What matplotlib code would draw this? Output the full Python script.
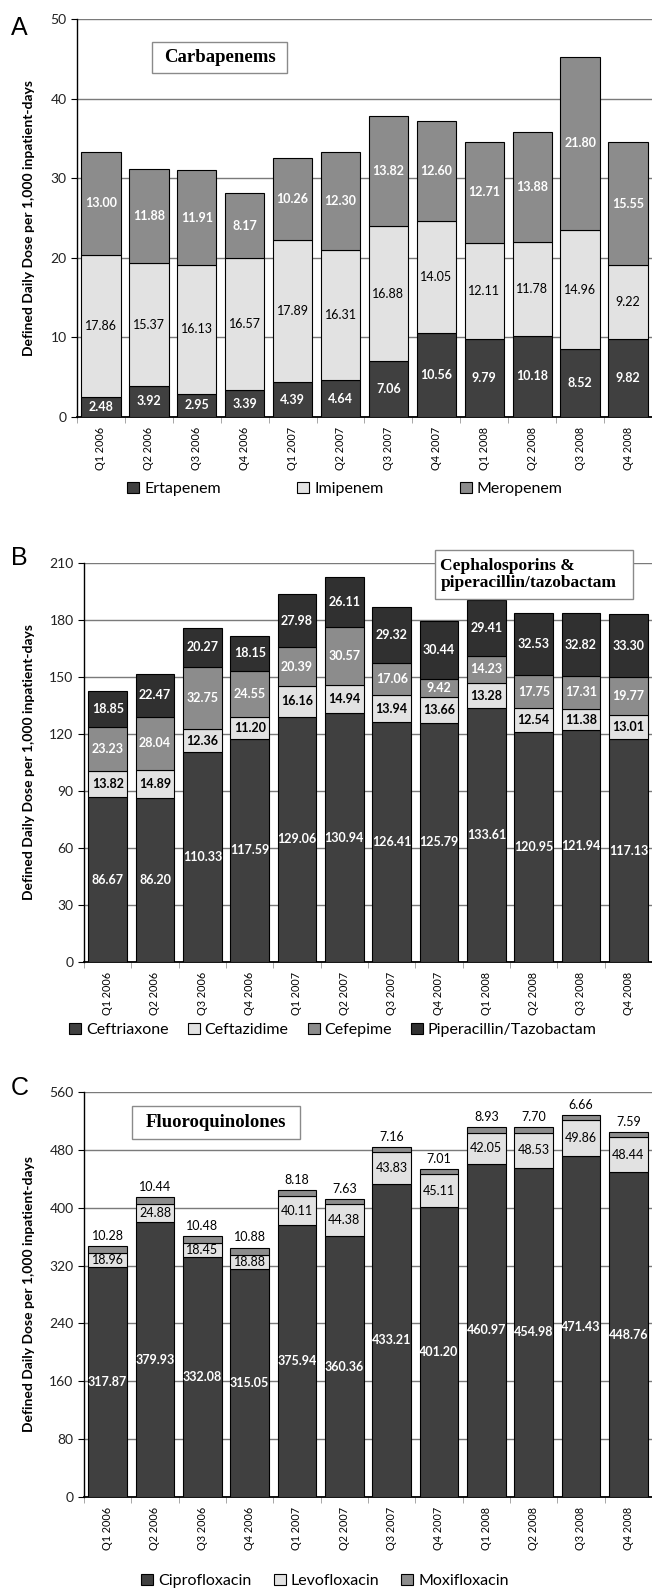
import matplotlib
matplotlib.use('Agg')
import matplotlib.pyplot as plt
from matplotlib.patches import Rectangle, Patch
import numpy as np

quarters = ['Q1 2006', 'Q2 2006', 'Q3 2006', 'Q4 2006', 'Q1 2007', 'Q2 2007',
            'Q3 2007', 'Q4 2007', 'Q1 2008', 'Q2 2008', 'Q3 2008', 'Q4 2008']

# Panel A - Carbapenems
ertapenem = [2.48, 3.92, 2.95, 3.39, 4.39, 4.64, 7.06, 10.56, 9.79, 10.18, 8.52, 9.82]
imipenem = [17.86, 15.37, 16.13, 16.57, 17.89, 16.31, 16.88, 14.05, 12.11, 11.78, 14.96, 9.22]
meropenem = [13.00, 11.88, 11.91, 8.17, 10.26, 12.30, 13.82, 12.60, 12.71, 13.88, 21.80, 15.55]

# Panel B - Cephalosporins & piperacillin/tazobactam
ceftriaxone = [86.67, 86.20, 110.33, 117.59, 129.06, 130.94, 126.41, 125.79, 133.61, 120.95, 121.94, 117.13]
ceftazidime = [13.82, 14.89, 12.36, 11.20, 16.16, 14.94, 13.94, 13.66, 13.28, 12.54, 11.38, 13.01]
cefepime = [23.23, 28.04, 32.75, 24.55, 20.39, 30.57, 17.06, 9.42, 14.23, 17.75, 17.31, 19.77]
piptazo = [18.85, 22.47, 20.27, 18.15, 27.98, 26.11, 29.32, 30.44, 29.41, 32.53, 32.82, 33.30]

# Panel C - Fluoroquinolones
ciprofloxacin = [317.87, 379.93, 332.08, 315.05, 375.94, 360.36, 433.21, 401.20, 460.97, 454.98, 471.43, 448.76]
levofloxacin = [18.96, 24.88, 18.45, 18.88, 40.11, 44.38, 43.83, 45.11, 42.05, 48.53, 49.86, 48.44]
moxifloxacin = [10.28, 10.44, 10.48, 10.88, 8.18, 7.63, 7.16, 7.01, 8.93, 7.70, 6.66, 7.59]

W, H = 652, 1593
fig = plt.figure(figsize=(W / 100, H / 100), dpi=100)
SANS = ['Lato', 'DejaVu Sans']
SERIF = ['Liberation Serif', 'DejaVu Serif']

DARK = '#404040'
DARKER = '#303030'
LIGHT = '#e2e2e2'
MID = '#8c8c8c'


def add_ax(l, t, r, b):
    return fig.add_axes([l / W, 1 - b / H, (r - l) / W, (b - t) / H])


def panel(ax, series, colors, styles, ymax, ystep, top_pad):
    x = np.arange(len(quarters))
    bottom = np.zeros(len(quarters))
    for vals, col, st in zip(series, colors, styles):
        vals = np.array(vals)
        ax.bar(x, vals, 0.82, bottom=bottom, color=col, edgecolor='black',
               linewidth=0.8, zorder=3)
        tc, fw, mode = st
        for xi, b, v in zip(x, bottom, vals):
            if mode == 'center':
                ax.text(xi, b + v / 2, f'{v:.2f}', ha='center', va='center',
                        color=tc, fontsize=9, fontweight=fw, family=SANS, zorder=4)
            else:
                ax.annotate(f'{v:.2f}', (xi, b + v), xytext=(0, top_pad),
                            textcoords='offset points', ha='center', va='bottom',
                            color=tc, fontsize=9, fontweight=fw, family=SANS, zorder=4)
        bottom = bottom + vals
    ax.set_xlim(-0.5, len(quarters) - 0.5)
    ax.set_ylim(0, ymax)
    ax.set_yticks(np.arange(0, ymax + 0.1, ystep))
    ax.set_xticks(x)
    ax.set_xticklabels(quarters, rotation=90, fontsize=7.8, family=SANS)
    ax.set_xticks(np.arange(-0.5, len(quarters), 1), minor=True)
    ax.tick_params(axis='x', which='major', length=0, pad=7)
    ax.tick_params(axis='x', which='minor', length=4, color='#999999', direction='out')
    ax.tick_params(axis='y', length=4, direction='out', labelsize=10, color='black')
    for lab in ax.get_yticklabels():
        lab.set_family(SANS)
        lab.set_color('#222222')
    ax.yaxis.grid(True, color='#7a7a7a', linewidth=1.0)
    ax.set_axisbelow(True)
    for s in ['top', 'right']:
        ax.spines[s].set_visible(False)
    ax.spines['left'].set_linewidth(1.0)
    ax.spines['bottom'].set_linewidth(1.3)


def ylabel(t, b):
    fig.text(29 / W, 1 - (t + b) / 2 / H, 'Defined Daily Dose per 1,000 inpatient-days',
             rotation=90, ha='center', va='center', fontsize=10, fontweight='bold',
             family=SANS)


def letter(s, y):
    fig.text(11 / W, 1 - y / H, s, fontsize=18, family=['Liberation Sans', 'DejaVu Sans'],
             ha='left', va='top')


def legend(labels, colors, cx, cy, colsp):
    handles = [Patch(facecolor=c, edgecolor='black', linewidth=0.8) for c in colors]
    fig.legend(handles, labels, loc='center', bbox_to_anchor=(cx / W, 1 - cy / H),
               ncol=len(labels), frameon=False, handlelength=0.75, handleheight=0.75,
               handletextpad=0.3, columnspacing=colsp,
               prop={'family': SANS, 'size': 11.5})


def title_box(ax, x0, x1, y0, y1, lines, ha='center'):
    ax.add_patch(Rectangle((x0, y0), x1 - x0, y1 - y0, facecolor='white',
                           edgecolor='#8a8a8a', linewidth=1.0, clip_on=False, zorder=6))
    if ha == 'center':
        ax.text((x0 + x1) / 2, (y0 + y1) / 2, lines, ha='center', va='center',
                fontsize=13.5, fontweight='bold', family=SERIF, zorder=7)
    else:
        ax.text(x0 + 0.12, (y0 + y1) / 2, lines, ha='left', va='center',
                fontsize=12.5, fontweight='bold', family=SERIF, zorder=7,
                linespacing=1.05)


# ---- Panel A
A = (77, 19, 652, 417)
axA = add_ax(*A)
panel(axA, [ertapenem, imipenem, meropenem], [DARK, LIGHT, MID],
      [('white', 'bold', 'center'), ('black', 'normal', 'center'),
       ('white', 'bold', 'center')], 50, 10, 2)
title_box(axA, 1.07, 3.89, 43.2, 47.1, 'Carbapenems')
ylabel(A[1], A[3])
letter('A', 16)
legend(['Ertapenem', 'Imipenem', 'Meropenem'], [DARK, LIGHT, MID], 345, 489, 4.8)

# ---- Panel B
B = (84, 563, 652, 962)
axB = add_ax(*B)
panel(axB, [ceftriaxone, ceftazidime, cefepime, piptazo], [DARK, LIGHT, MID, DARKER],
      [('white', 'bold', 'center'), ('black', 'bold', 'center'),
       ('white', 'bold', 'center'), ('white', 'bold', 'center')], 210, 30, 2)
title_box(axB, 6.91, 11.1, 191, 217, 'Cephalosporins &\npiperacillin/tazobactam', ha='left')
ylabel(B[1], B[3])
letter('B', 546)
legend(['Ceftriaxone', 'Ceftazidime', 'Cefepime', 'Piperacillin/Tazobactam'],
       [DARK, LIGHT, MID, DARKER], 333, 1030, 1.2)

# ---- Panel C
C = (84, 1092, 652, 1497)
axC = add_ax(*C)
panel(axC, [ciprofloxacin, levofloxacin, moxifloxacin], [DARK, LIGHT, MID],
      [('white', 'bold', 'center'), ('black', 'normal', 'center'),
       ('black', 'normal', 'above')], 560, 80, 3)
title_box(axC, 0.52, 4.07, 495, 540, 'Fluoroquinolones')
ylabel(C[1], C[3])
letter('C', 1076)
legend(['Ciprofloxacin', 'Levofloxacin', 'Moxifloxacin'], [DARK, LIGHT, MID], 325, 1581, 1.4)

fig.savefig('out.png', dpi=100, facecolor='white')
